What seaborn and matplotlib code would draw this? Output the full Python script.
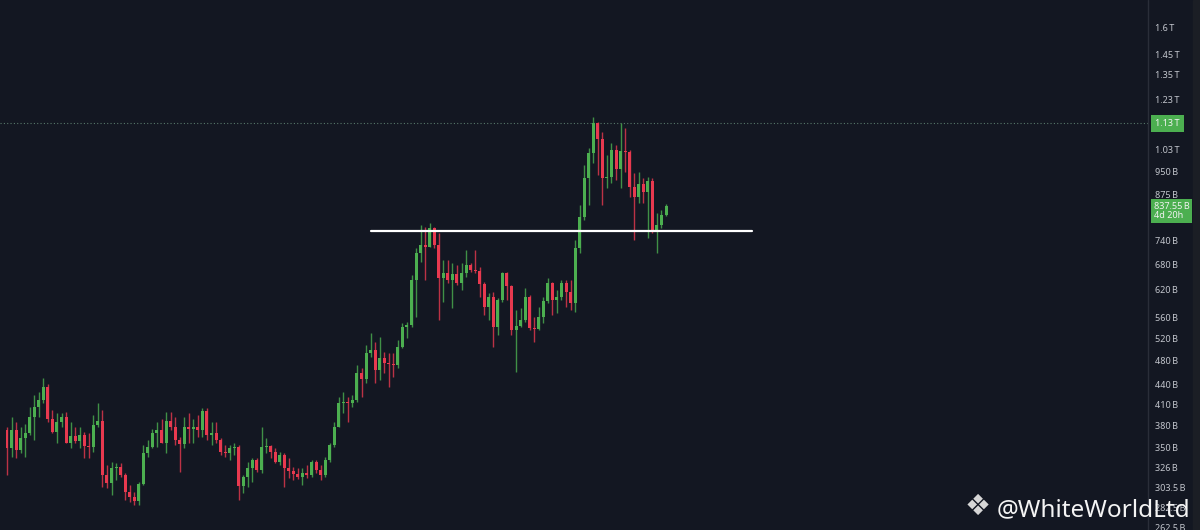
import numpy as np
import pandas as pd
import matplotlib
matplotlib.use("Agg")
import matplotlib.pyplot as plt
import matplotlib.transforms as mtrans
from matplotlib.ticker import NullLocator
from matplotlib.patches import Rectangle
from matplotlib.lines import Line2D
import seaborn as sns

# ---------------- data (values in billions) ----------------
first_open = 373
closes = [350, 373, 348, 363, 369, 392, 406, 416, 436, 389,
          371, 384, 391, 357, 366, 359, 367, 352, 351, 380,
          386, 317, 308, 326, 327, 318, 299, 293, 289, 307,
          344, 351, 370, 373, 357, 386, 377, 360, 355, 378,
          375, 377, 374, 400, 367, 370, 360, 345, 344, 350,
          351, 305, 315, 326, 335, 323, 351, 352, 345, 333,
          341, 326, 322, 319, 315, 320, 318, 333, 323, 318,
          335, 354, 378, 412, 413, 412, 416, 459, 449, 493,
          499, 464, 484, 476, 474, 472, 504, 542, 546, 642,
          708, 729, 723, 774, 729, 647, 659, 642, 656, 635,
          659, 678, 666, 663, 633, 582, 604, 542, 597, 659,
          628, 536, 544, 556, 604, 540, 538, 562, 595, 635,
          597, 604, 635, 615, 591, 720, 806, 928, 1016, 1131,
          1068, 928, 931, 1027, 958, 1023, 1019, 898, 866, 908,
          882, 918, 763, 783, 812, 837.55]
highs = [377, 392, 385, 378, 381, 406, 424, 428, 450, 441,
         402, 397, 397, 399, 384, 378, 377, 371, 370, 394,
         412, 402, 329, 333, 332, 332, 320, 306, 299, 309,
         354, 360, 375, 385, 388, 399, 399, 391, 364, 391,
         397, 388, 394, 405, 405, 384, 384, 363, 354, 354,
         356, 354, 318, 333, 338, 338, 377, 363, 354, 350,
         345, 344, 338, 327, 326, 326, 329, 335, 335, 329,
         339, 357, 384, 420, 428, 421, 424, 472, 467, 508,
         530, 514, 523, 495, 493, 493, 517, 550, 552, 654,
         720, 783, 777, 789, 777, 760, 690, 690, 683, 678,
         683, 715, 683, 715, 673, 637, 613, 615, 602, 661,
         661, 631, 576, 580, 624, 608, 562, 582, 604, 647,
         637, 619, 642, 642, 642, 742, 841, 973, 1034, 1156,
         1135, 1095, 1008, 1053, 1045, 1131, 1111, 1027, 944, 948,
         928, 931, 928, 818, 827, 844]
lows = [318, 339, 338, 344, 339, 367, 360, 391, 412, 385,
        370, 357, 377, 356, 350, 356, 350, 338, 338, 345,
        377, 304, 303, 295, 312, 315, 290, 288, 285, 285,
        306, 339, 350, 351, 356, 344, 374, 354, 321, 350,
        357, 356, 364, 364, 360, 354, 357, 341, 339, 335,
        341, 290, 297, 304, 309, 321, 320, 344, 338, 332,
        329, 304, 314, 312, 313, 306, 314, 315, 320, 312,
        315, 333, 351, 377, 397, 384, 406, 413, 421, 442,
        486, 442, 447, 459, 436, 452, 467, 502, 521, 542,
        562, 686, 642, 723, 720, 556, 593, 635, 580, 631,
        619, 649, 661, 659, 604, 565, 556, 504, 527, 593,
        597, 527, 461, 542, 552, 536, 514, 536, 550, 591,
        565, 570, 597, 582, 576, 572, 708, 797, 841, 980,
        938, 841, 895, 911, 921, 895, 948, 866, 742, 848,
        848, 747, 760, 708, 774, 809]

support_level = [766, 766]
support_span = [80, 164]          # candle index where the drawn level starts / ends
marked_level = 1130               # dotted price line "1.13T"
countdown = "4d 20h"

tick_vals = [1600, 1450, 1350, 1230, 1110, 1030, 950, 875, 810, 740, 680, 620,
             560, 520, 480, 440, 410, 380, 350, 326, 303.5, 282.5, 262.5]
tick_labels = ["1.6\u2009T", "1.45\u2009T", "1.35\u2009T", "1.23\u2009T", "1.11\u2009T",
               "1.03\u2009T", "950\u2009B", "875\u2009B", "810\u2009B", "740\u2009B",
               "680\u2009B", "620\u2009B", "560\u2009B", "520\u2009B", "480\u2009B",
               "440\u2009B", "410\u2009B", "380\u2009B", "350\u2009B", "326\u2009B",
               "303.5\u2009B", "282.5\u2009B", "262.5\u2009B"]

# ---------------- style ----------------
BG = "#131722"
GREEN = "#4caf50"
RED = "#e8394f"
sns.set_theme(style="dark", rc={"axes.facecolor": BG, "figure.facecolor": BG,
                                "axes.grid": False})
plt.rcParams["font.family"] = ["Noto Sans", "DejaVu Sans"]

opens = [first_open] + closes[:-1]
df = pd.DataFrame({"open": opens, "high": highs, "low": lows, "close": closes})
df["idx"] = np.arange(len(df))
up = df["close"] >= df["open"]
colors = np.where(up, GREEN, RED)

W, H = 1200, 530
fig = plt.figure(figsize=(W / 100, H / 100), dpi=100)
AX_RIGHT = 1148
ax = fig.add_axes([0, 0, AX_RIGHT / W, 1])
ax.set_facecolor(BG)
ax.set_yscale("log")

step = 4.545
x0 = 7
ax.set_xlim(-x0 / step, (AX_RIGHT - x0) / step)
ax.set_ylim(260.3, 1764)

# wicks
ax.vlines(df["idx"], df["low"], df["high"], colors=colors, linewidth=1.0,
          alpha=0.8, zorder=2)
# bodies
bottom = np.minimum(df["open"], df["close"])
top = np.maximum(df["open"], df["close"])
height = np.maximum(top - bottom, bottom * 0.004)
ax.bar(df["idx"], height, bottom=bottom, width=0.66, color=colors,
       linewidth=0, zorder=3)

# support line
sns.lineplot(x=support_span, y=support_level, color="white", linewidth=1.6,
             ax=ax, zorder=4)

# dotted price line
ax.axhline(marked_level, color="#58796b", linestyle=(0, (1, 2)), linewidth=0.8,
           zorder=1)

# axis styling
for s in ax.spines.values():
    s.set_visible(False)
ax.set_xticks([])
ax.yaxis.tick_right()
ax.set_yticks(tick_vals)
ax.set_yticklabels(tick_labels)
ax.yaxis.set_minor_locator(NullLocator())
ax.tick_params(axis="y", length=0, pad=5, labelsize=6.5, labelcolor="#c3c6cd")
ax.set_xlabel("")
ax.set_ylabel("")

# separators / strips
fig.add_artist(Line2D([AX_RIGHT / W] * 2, [0, 1], color="#2a2e39", linewidth=1))
fig.add_artist(Rectangle((0, 0), 6 / W, 1, transform=fig.transFigure,
                         color="#262a32", zorder=0))
fig.add_artist(Rectangle((1193 / W, 0), 7 / W, 1, transform=fig.transFigure,
                         color="#1b1e25", zorder=0))

blend = mtrans.blended_transform_factory(ax.transAxes, ax.transData)
ax.annotate("1.13\u2009T", xy=(1, marked_level), xycoords=blend,
            xytext=(5, 0), textcoords="offset points", ha="left", va="center",
            fontsize=6.5, color="#f2f2f2",
            bbox=dict(boxstyle="square,pad=0.45", fc=GREEN, ec="none"),
            annotation_clip=False, zorder=6)
ax.annotate(f"{closes[-1]:.2f}\u2009B\n{countdown}", xy=(1, closes[-1]),
            xycoords=blend, xytext=(4, -3.2), textcoords="offset points",
            ha="left", va="center", fontsize=6.5, color="#f2f2f2", linespacing=1.05,
            bbox=dict(boxstyle="square,pad=0.3", fc=GREEN, ec="none"),
            annotation_clip=False, zorder=6)

# watermark
fig.text(978 / W, (H - 507) / H, "\u2756", fontsize=21, color="#d6d6d6",
         ha="center", va="center", family=["DejaVu Sans"], zorder=10)
fig.text(997 / W, (H - 516) / H, "@WhiteWorldLtd", fontsize=17.5, color="#f4f4f4",
         ha="left", va="baseline", zorder=10)

fig.savefig("out.png", dpi=100, facecolor=BG)
